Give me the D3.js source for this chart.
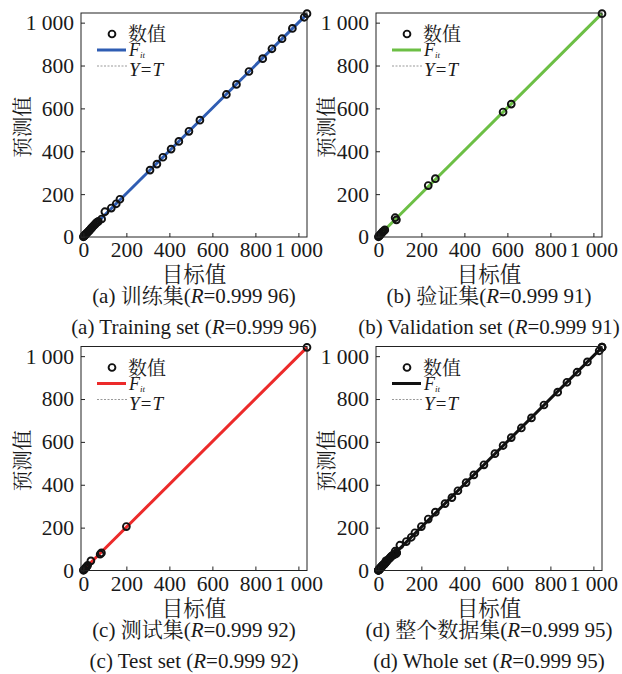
<!DOCTYPE html>
<html>
<head>
<meta charset="utf-8">
<script src="https://cdn.jsdelivr.net/npm/d3@7"></script>
<style>
  body { margin: 0; background: #fff; }
</style>
</head>
<body>
<svg id="chart"></svg>
<script>
// target / predicted values
const trainTarget = [0, 2, 4, 6, 8, 10, 13, 16, 20, 24, 28, 32, 36, 40, 45, 50, 55, 60, 65, 70, 85, 100, 130, 153, 170, 310, 342, 370, 408, 444, 491, 542, 665, 712, 770, 834, 877, 924, 972, 1027, 1040]
const trainPred   = [1, 3, 5, 8, 9, 12, 15, 18, 22, 27, 30, 35, 40, 44, 50, 55, 60, 66, 70, 73, 84, 118, 135, 155, 176, 312, 340, 372, 410, 446, 493, 545, 665, 712, 772, 832, 878, 925, 973, 1025, 1042]

const valTarget = [0, 3, 6, 10, 15, 20, 25, 30, 78, 84, 232, 265, 580, 618, 1040]
const valPred   = [1, 4, 8, 12, 18, 24, 28, 33, 90, 80, 240, 272, 583, 620, 1042]

const testTarget = [0, 2, 5, 10, 15, 20, 35, 78, 84, 200, 1040]
const testPred   = [1, 3, 6, 12, 17, 24, 45, 76, 82, 205, 1041]

const wholeTarget = trainTarget.concat(valTarget, testTarget)
const wholePred   = trainPred.concat(valPred, testPred)

const tickValues = [0, 200, 400, 600, 800, 1000]

// one family per element, the renderer does not like lists
const SERIF = '"Liberation Serif"'
const CJK = '"Noto Serif CJK SC"'

const W = 622, H = 674
const pw = 226, ph = 224

const svg = d3.select("#chart").attr("width", W).attr("height", H)

const panels = [
  { left: 81,  top: 13,    labelX: -60, target: trainTarget, pred: trainPred, color: "#2f5db3", tag: "(a)", cn: "训练集",   en: "Training set",   r: "0.999 96" },
  { left: 376, top: 13,    labelX: -51, target: valTarget,   pred: valPred,   color: "#6cbf45", tag: "(b)", cn: "验证集",   en: "Validation set", r: "0.999 91" },
  { left: 81,  top: 346.5, labelX: -60, target: testTarget,  pred: testPred,  color: "#ec2a2a", tag: "(c)", cn: "测试集",   en: "Test set",       r: "0.999 92" },
  { left: 376, top: 346.5, labelX: -51, target: wholeTarget, pred: wholePred, color: "#111111", tag: "(d)", cn: "整个数据集", en: "Whole set",      r: "0.999 95" }
]

const fmt = d => d3.format(",")(d).replace(",", " ")

const txt = (sel, fam, size) => sel.style("font-family", fam).style("font-size", size + "px").attr("fill", "#1a1a1a")

panels.forEach(p => {
  const g = svg.append("g").attr("transform", `translate(${p.left},${p.top})`)
  const x = d3.scaleLinear().domain([-11, 1040]).range([0, pw])
  const y = d3.scaleLinear().domain([0, 1045]).range([ph, 0])

  // least squares fit
  const n = p.target.length
  const mx = d3.mean(p.target), my = d3.mean(p.pred)
  let sxy = 0, sxx = 0
  for (let i = 0; i < n; i++) {
    sxy += (p.target[i] - mx) * (p.pred[i] - my)
    sxx += (p.target[i] - mx) * (p.target[i] - mx)
  }
  const a = sxy / sxx, b = my - a * mx
  const x0 = d3.min(p.target), x1 = d3.max(p.target)

  // Y = T
  g.append("line")
    .attr("x1", x(x0)).attr("y1", y(x0)).attr("x2", x(x1)).attr("y2", y(x1))
    .attr("stroke", "#999").attr("stroke-width", 1).attr("stroke-dasharray", "2,1.5")

  // fit
  g.append("line")
    .attr("x1", x(x0)).attr("y1", y(a * x0 + b)).attr("x2", x(x1)).attr("y2", y(a * x1 + b))
    .attr("stroke", p.color).attr("stroke-width", 3)

  // points
  g.selectAll(".pt")
    .data(d3.range(n))
    .enter()
    .append("circle")
    .attr("class", "pt")
    .attr("cx", i => x(p.target[i]))
    .attr("cy", i => y(p.pred[i]))
    .attr("r", 3.4)
    .attr("fill", "none")
    .attr("stroke", "#111")
    .attr("stroke-width", 1.9)

  // frame
  g.append("rect").attr("width", pw).attr("height", ph)
    .attr("fill", "none").attr("stroke", "#222").attr("stroke-width", 1)

  // axes, ticks pointing inward
  const gx = g.append("g").attr("transform", `translate(0,${ph})`)
    .call(d3.axisBottom(x).tickValues(tickValues).tickSizeInner(-4).tickSizeOuter(0).tickPadding(5).tickFormat(fmt))
  const gy = g.append("g")
    .call(d3.axisLeft(y).tickValues(tickValues).tickSizeInner(-4).tickSizeOuter(0).tickPadding(7).tickFormat(fmt))
  ;[gx, gy].forEach(ax => {
    ax.attr("font-family", null).attr("font-size", null)
    ax.select(".domain").remove()
    ax.selectAll(".tick line").attr("stroke", "#222")
    txt(ax.selectAll(".tick text"), SERIF, 21.5)
  })
  gx.selectAll(".tick text").attr("dy", "0.72em")

  // axis titles
  txt(g.append("text"), CJK, 21.5).attr("x", pw / 2).attr("y", 269)
    .attr("text-anchor", "middle").text("目标值")
  txt(g.append("text"), CJK, 20.5)
    .attr("transform", `translate(${p.labelX},${ph / 2 + 2}) rotate(-90)`)
    .attr("text-anchor", "middle").attr("dominant-baseline", "central")
    .text("预测值")

  // legend
  g.append("circle").attr("cx", 31).attr("cy", 21).attr("r", 3.4)
    .attr("fill", "none").attr("stroke", "#111").attr("stroke-width", 1.9)
  txt(g.append("text"), CJK, 19).attr("x", 47).attr("y", 28).text("数值")
  g.append("line").attr("x1", 16).attr("x2", 45).attr("y1", 37).attr("y2", 37)
    .attr("stroke", p.color).attr("stroke-width", 3)
  const tf = txt(g.append("text"), SERIF, 18).attr("x", 48).attr("y", 43).attr("font-style", "italic")
  tf.append("tspan").text("F")
  tf.append("tspan").style("font-size", "9px").attr("dy", 2).text("it")
  g.append("line").attr("x1", 16).attr("x2", 46).attr("y1", 53).attr("y2", 53)
    .attr("stroke", "#999").attr("stroke-width", 1).attr("stroke-dasharray", "2,1.5")
  txt(g.append("text"), SERIF, 19).attr("x", 48).attr("y", 63)
    .attr("font-style", "italic").text("Y=T")

  // captions
  const c1 = txt(g.append("text"), SERIF, 21).attr("x", pw / 2).attr("y", 290).attr("text-anchor", "middle")
  c1.append("tspan").text(`${p.tag} `)
  c1.append("tspan").style("font-family", CJK).text(p.cn)
  c1.append("tspan").text("(")
  c1.append("tspan").attr("font-style", "italic").text("R")
  c1.append("tspan").text(`=${p.r})`)
  const c2 = txt(g.append("text"), SERIF, 21).attr("x", pw / 2).attr("y", 321).attr("text-anchor", "middle")
  c2.append("tspan").text(`${p.tag} ${p.en} (`)
  c2.append("tspan").attr("font-style", "italic").text("R")
  c2.append("tspan").text(`=${p.r})`)
})
</script>
</body>
</html>
